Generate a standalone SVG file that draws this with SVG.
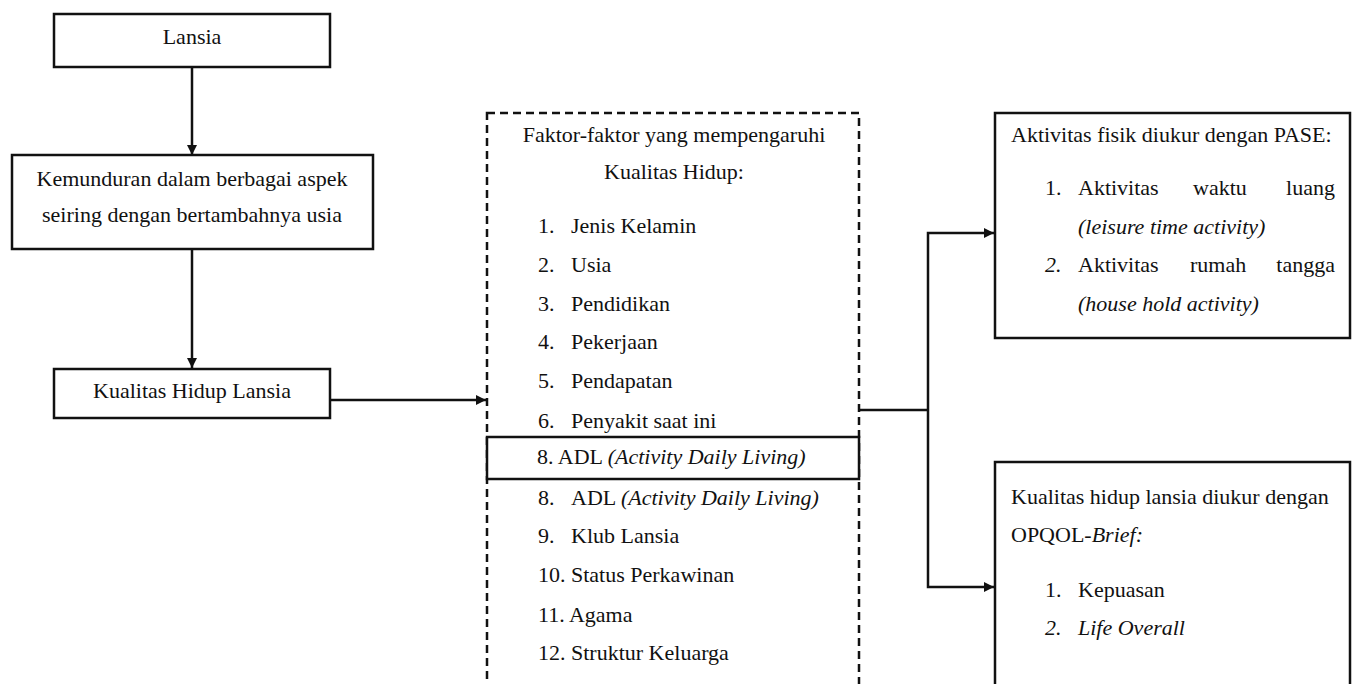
<svg xmlns="http://www.w3.org/2000/svg" width="1356" height="684" viewBox="0 0 1356 684">
<defs>
<style>
text{font-family:"Liberation Serif","Times New Roman",serif;font-size:22px;fill:#111}
.c{text-anchor:middle}
.e{text-anchor:end}
.i{font-style:italic}
.box{fill:#fff;stroke:#111;stroke-width:2.5}
.dash{fill:none;stroke:#111;stroke-width:2.5;stroke-dasharray:8 5}
.ln{fill:none;stroke:#111;stroke-width:2.5}
</style>
<marker id="ah" viewBox="0 0 10 10" refX="10" refY="5" markerWidth="10" markerHeight="10" markerUnits="userSpaceOnUse" orient="auto">
<path d="M0,0 L10,5 L0,10 Z" fill="#111"/>
</marker>
</defs>
<rect width="1356" height="684" fill="#fff"/>

<g id="connectors">
<line class="ln" x1="192" y1="67" x2="192" y2="155" marker-end="url(#ah)"/>
<line class="ln" x1="192" y1="249" x2="192" y2="368" marker-end="url(#ah)"/>
<line class="ln" x1="330" y1="400" x2="486" y2="400" marker-end="url(#ah)"/>
<polyline class="ln" points="859,410 928,410"/>
<polyline class="ln" points="928,410 928,233 994,233" marker-end="url(#ah)"/>
<polyline class="ln" points="928,410 928,587 994,587" marker-end="url(#ah)"/>
</g>

<g id="lansia">
<rect class="box" x="54" y="14" width="276" height="53"/>
<text class="c" x="192" y="44">Lansia</text>
</g>

<g id="kemunduran">
<rect class="box" x="12" y="155" width="361" height="94"/>
<text class="c" x="192" y="186">Kemunduran dalam berbagai aspek</text>
<text class="c" x="192" y="222">seiring dengan bertambahnya usia</text>
</g>

<g id="kualitas-hidup-lansia">
<rect class="box" x="54" y="369" width="276" height="49"/>
<text class="c" x="192" y="398">Kualitas Hidup Lansia</text>
</g>

<g id="faktor">
<rect class="dash" x="487" y="113" width="372" height="600"/>
<text class="c" x="674" y="142">Faktor-faktor yang mempengaruhi</text>
<text class="c" x="674" y="179">Kualitas Hidup:</text>
<text x="538" y="233">1.</text><text x="571" y="233">Jenis Kelamin</text>
<text x="538" y="272">2.</text><text x="571" y="272">Usia</text>
<text x="538" y="311">3.</text><text x="571" y="311">Pendidikan</text>
<text x="538" y="349">4.</text><text x="571" y="349">Pekerjaan</text>
<text x="538" y="388">5.</text><text x="571" y="388">Pendapatan</text>
<text x="538" y="428">6.</text><text x="571" y="428">Penyakit saat ini</text>
<text x="538" y="505">8.</text><text x="571" y="505">ADL <tspan class="i">(Activity Daily Living)</tspan></text>
<text x="538" y="543">9.</text><text x="571" y="543">Klub Lansia</text>
<text x="538" y="582">10. Status Perkawinan</text>
<text x="538" y="622">11. Agama</text>
<text x="538" y="660">12. Struktur Keluarga</text>
</g>

<g id="adl-highlight">
<rect class="box" x="487" y="437" width="372" height="42"/>
<text x="537" y="464">8. ADL <tspan class="i">(Activity Daily Living)</tspan></text>
</g>

<g id="pase">
<rect class="box" x="995" y="113" width="355" height="225"/>
<text x="1011" y="142">Aktivitas fisik diukur dengan PASE:</text>
<text x="1045" y="195">1.</text>
<text x="1078" y="195">Aktivitas</text>
<text x="1193" y="195">waktu</text>
<text class="e" x="1335" y="195">luang</text>
<text class="i" x="1078" y="234">(leisure time activity)</text>
<text class="i" x="1045" y="272">2.</text>
<text x="1078" y="272">Aktivitas</text>
<text x="1190" y="272">rumah</text>
<text class="e" x="1335" y="272">tangga</text>
<text class="i" x="1078" y="311">(house hold activity)</text>
</g>

<g id="opqol">
<rect class="box" x="995" y="462" width="355" height="260"/>
<text x="1011" y="504">Kualitas hidup lansia diukur dengan</text>
<text x="1011" y="542">OPQOL-<tspan class="i">Brief:</tspan></text>
<text x="1045" y="597">1.</text><text x="1078" y="597">Kepuasan</text>
<text class="i" x="1045" y="635">2.</text><text class="i" x="1078" y="635">Life Overall</text>
</g>
</svg>
